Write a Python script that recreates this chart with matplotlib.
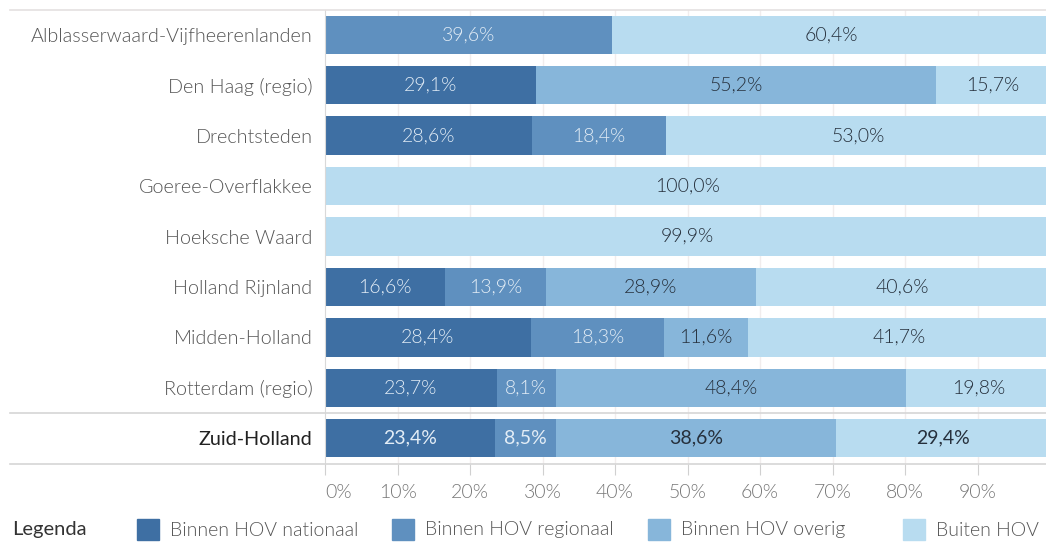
import matplotlib.pyplot as plt
import matplotlib.transforms as mtransforms
from matplotlib.lines import Line2D
from matplotlib.patches import Rectangle

plt.rcParams['font.family'] = ['Lato', 'DejaVu Sans']
plt.rcParams['font.weight'] = 300

regions = ['Alblasserwaard-Vijfheerenlanden', 'Den Haag (regio)', 'Drechtsteden',
           'Goeree-Overflakkee', 'Hoeksche Waard', 'Holland Rijnland',
           'Midden-Holland', 'Rotterdam (regio)', 'Zuid-Holland']
nationaal = [0, 29.1, 28.6, 0, 0, 16.6, 28.4, 23.7, 23.4]
regionaal = [39.6, 0, 18.4, 0, 0, 13.9, 18.3, 8.1, 8.5]
overig = [0, 55.2, 0, 0, 0, 28.9, 11.6, 48.4, 38.6]
buiten = [60.4, 15.7, 53.0, 100.0, 99.9, 40.6, 41.7, 19.8, 29.4]

series = [nationaal, regionaal, overig, buiten]
names = ['Binnen HOV nationaal', 'Binnen HOV regionaal', 'Binnen HOV overig', 'Buiten HOV']
colors = ['#3e6fa3', '#5f90bf', '#87b6da', '#b8dcf0']
text_colors = ['#e3edf6', '#e3edf6', '#26303c', '#26303c']

W, H = 1046, 542
fig = plt.figure(figsize=(W / 100, H / 100), dpi=100)
# axes runs 0..100% from x=325 to x=1050 px (right edge slightly cut off)
ax = fig.add_axes([325 / W, 1 - 463.5 / H, (1050 - 325) / W, (463.5 - 9.5) / H])

ax.set_xlim(0, 100)
ax.set_ylim(8.5, -0.5)

for i, reg in enumerate(regions):
    left = 0
    total_row = i == len(regions) - 1
    for vals, c, tc in zip(series, colors, text_colors):
        v = vals[i]
        if v > 0:
            ax.barh(i, v, left=left, height=0.76, color=c, zorder=2)
            ax.text(left + v / 2, i, f'{v:.1f}%'.replace('.', ','),
                    ha='center', va='center', fontsize=14, color=tc,
                    fontweight='normal' if total_row else 300, zorder=3)
        left += v

# faint vertical grid
for x in range(10, 100, 10):
    ax.axvline(x, color='#f1eded', lw=1, zorder=1)

for s in ['top', 'right', 'bottom']:
    ax.spines[s].set_visible(False)
ax.spines['left'].set_color('#d9d9d9')

ax.set_yticks(range(len(regions)))
ax.set_yticklabels(regions, fontsize=14.2, color='#555555')
ax.get_yticklabels()[-1].set_fontweight('normal')
ax.get_yticklabels()[-1].set_color('#222222')
ax.tick_params(axis='y', length=0, pad=9)

ax.set_xticks(range(0, 100, 10))
ax.set_xticklabels([f'{x}%' for x in range(0, 100, 10)], fontsize=14, color='#777777')
ax.xaxis.get_majorticklabels()[0].set_horizontalalignment('left')
ax.tick_params(axis='x', length=8, color='#d0d0d0', pad=7, direction='out')

# row separators running across the full width
tr = mtransforms.blended_transform_factory(fig.transFigure, ax.transData)
for y, c in [(-0.5, '#e4e0e0'), (7.5, '#d6d6d6'), (8.5, '#d6d6d6')]:
    fig.add_artist(Line2D([10 / W, 1], [y, y], transform=tr, color=c, lw=1.2))

# legend along the bottom
ly = 1 - 530 / H
fig.text(12 / W, ly, 'Legenda', fontsize=14.5, fontweight='normal', color='#333333', va='center')
for xs, name, c in zip([137, 392, 648, 903], names, colors):
    fig.add_artist(Rectangle((xs / W, 1 - 540 / H), 22 / W, 21 / H,
                             transform=fig.transFigure, color=c))
    fig.text((xs + 33) / W, ly, name, fontsize=14, color='#555555', va='center')

fig.savefig('out.png', dpi=100)
